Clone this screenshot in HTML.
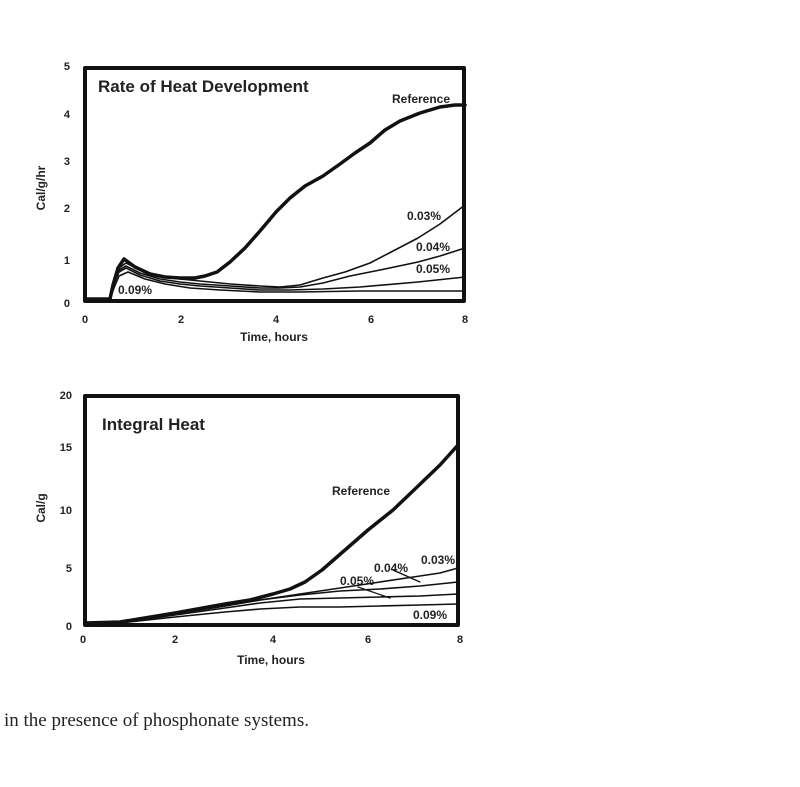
<!DOCTYPE html>
<html><head><style>
body{margin:0;background:#fff;width:800px;height:787px;overflow:hidden}
svg{position:absolute;left:0;top:0}
.t{font-family:"Liberation Sans",Arial,sans-serif;font-weight:bold;fill:#222}
</style></head><body>
<svg width="800" height="787" viewBox="0 0 800 787">
<g class="t" font-size="11">
<text x="70" y="70" text-anchor="end">5</text>
<text x="70" y="118" text-anchor="end">4</text>
<text x="70" y="165" text-anchor="end">3</text>
<text x="70" y="212" text-anchor="end">2</text>
<text x="70" y="264" text-anchor="end">1</text>
<text x="70" y="307" text-anchor="end">0</text>
<text x="85" y="323" text-anchor="middle">0</text>
<text x="181" y="323" text-anchor="middle">2</text>
<text x="276" y="323" text-anchor="middle">4</text>
<text x="371" y="323" text-anchor="middle">6</text>
<text x="465" y="323" text-anchor="middle">8</text>
<text x="274" y="341" text-anchor="middle" font-size="12">Time, hours</text>
<text transform="translate(45,188) rotate(-90)" text-anchor="middle" font-size="12">Cal/g/hr</text>
<text x="98" y="92" font-size="17">Rate of Heat Development</text>
<text x="392" y="103" font-size="12">Reference</text>
<text x="407" y="220" font-size="12">0.03%</text>
<text x="416" y="251" font-size="12">0.04%</text>
<text x="416" y="273" font-size="12">0.05%</text>
<text x="118" y="294" font-size="12">0.09%</text>

<text x="72" y="399" text-anchor="end">20</text>
<text x="72" y="451" text-anchor="end">15</text>
<text x="72" y="514" text-anchor="end">10</text>
<text x="72" y="572" text-anchor="end">5</text>
<text x="72" y="630" text-anchor="end">0</text>
<text x="83" y="643" text-anchor="middle">0</text>
<text x="175" y="643" text-anchor="middle">2</text>
<text x="273" y="643" text-anchor="middle">4</text>
<text x="368" y="643" text-anchor="middle">6</text>
<text x="460" y="643" text-anchor="middle">8</text>
<text x="271" y="664" text-anchor="middle" font-size="12">Time, hours</text>
<text transform="translate(45,508) rotate(-90)" text-anchor="middle" font-size="12">Cal/g</text>
<text x="102" y="430" font-size="17">Integral Heat</text>
<text x="332" y="495" font-size="12">Reference</text>
<text x="421" y="564" font-size="12">0.03%</text>
<text x="374" y="572" font-size="12">0.04%</text>
<text x="340" y="585" font-size="12">0.05%</text>
<text x="413" y="619" font-size="12">0.09%</text>
</g>
<g fill="none" stroke="#111" stroke-linejoin="round" stroke-linecap="round">
<rect x="85" y="68" width="379" height="233" stroke-width="4"/>
<polyline points="85,299 110,299 113,285 118,268 124,259 135,267 150,274 165,277 180,278 195,278 205,276 217,272 230,262 245,248 260,231 276,212 290,198 305,186 323,176 340,164 355,153 370,143 385,130 400,121 420,113 440,107 455,105 465,105" stroke-width="3.5"/>
<polyline points="110,299 114,280 119,268 126,263 140,270 160,276 180,279 200,281 230,284 260,286 280,287 300,285 323,278 345,272 370,263 395,250 418,238 440,224 465,205" stroke-width="1.6"/>
<polyline points="110,299 114,282 119,270 126,266 140,273 160,279 180,282 200,284 230,286 260,288 280,288 300,287 323,283 350,276 380,270 418,262 440,256 465,248" stroke-width="1.6"/>
<polyline points="110,299 114,284 119,272 126,268 140,275 160,281 180,284 200,286 230,288 260,290 290,290 323,289 360,287 418,282 465,277" stroke-width="1.6"/>
<polyline points="110,299 114,288 119,276 128,272 145,279 165,284 190,288 220,290 260,292 300,292 360,291 418,291 465,291" stroke-width="1.6"/>

<rect x="85" y="396" width="373" height="229" stroke-width="4"/>
<polyline points="85,623 120,622 175,613 225,604 250,600 273,594 290,589 305,582 322,570 345,550 368,530 393,510 415,489 440,465 458,445" stroke-width="3.5"/>
<polyline points="120,623 175,614 225,606 260,600 300,594 340,588 380,582 420,576 440,573 458,568" stroke-width="1.6"/>
<polyline points="120,623 175,614 225,606 260,600 300,595 340,591 380,589 420,586 458,582" stroke-width="1.6"/>
<polyline points="120,623 175,615 225,608 260,603 300,599 340,598 380,597 420,596 458,594" stroke-width="1.6"/>
<polyline points="120,623 175,617 225,612 260,609 300,607 340,607 380,606 420,605 458,604" stroke-width="1.6"/>
<path d="M393,570 L420,582" stroke-width="1.3"/>
<path d="M358,587 L390,598" stroke-width="1.3"/>
</g>
<text x="4" y="726" font-family="'Liberation Serif',serif" font-size="19" fill="#222">in the presence of phosphonate systems.</text>
</svg>
</body></html>
